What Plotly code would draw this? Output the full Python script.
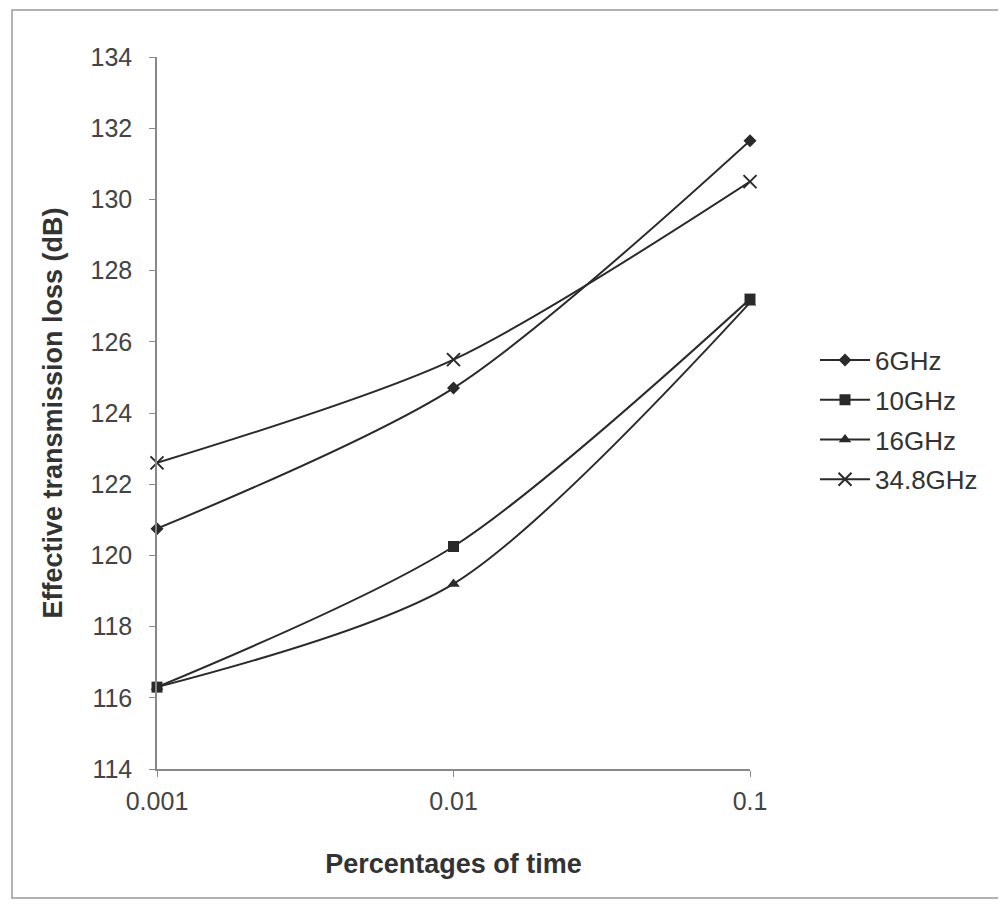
import plotly.graph_objects as go

# Data
time_pct = ["0.001", "0.01", "0.1"]
loss_6ghz = [120.75, 124.7, 131.65]
loss_10ghz = [116.3, 120.25, 127.2]
loss_16ghz = [116.3, 119.2, 127.1]
loss_348ghz = [122.6, 125.5, 130.5]
series_names = ["6GHz", "10GHz", "16GHz", "34.8GHz"]
y_ticks = list(range(114, 135, 2))

series = [loss_6ghz, loss_10ghz, loss_16ghz, loss_348ghz]
symbols = ["diamond", "square", "triangle-up", "x-thin"]
sizes = [10, 11, 11, 13]

fig = go.Figure()
for i, (name, vals) in enumerate(zip(series_names, series)):
    marker = dict(symbol=symbols[i], size=sizes[i], color="#2a2a2a",
                  line=dict(color="#2a2a2a", width=2 if symbols[i] == "x-thin" else 0))
    fig.add_trace(go.Scatter(
        x=time_pct, y=vals, name=name, mode="lines+markers",
        line=dict(color="#2a2a2a", width=2, shape="spline", smoothing=0.8),
        marker=marker, legendgroup=name, cliponaxis=False,
    ))

OFF = 8  # page body margin
W, H = 1006, 906
# plot area in screen pixels: x 157..750, y 57..769
L, R, T, B = 157 - OFF, W - (750 - OFF), 57 - OFF, H - (769 - OFF)
pw, ph = W - L - R, H - T - B

def px_x(x):
    return (x - OFF - L) / pw

def px_y(y):
    return (H - B - (y - OFF)) / ph

fig.update_layout(
    width=W, height=H,
    margin=dict(l=L, r=R, t=T, b=B, pad=0),
    paper_bgcolor="white", plot_bgcolor="white",
    font=dict(family="Liberation Sans, Arial, sans-serif", color="#333"),
    showlegend=True,
    legend=dict(x=px_x(815), y=px_y(420), xanchor="left", yanchor="middle",
                font=dict(size=26, color="#333"), tracegroupgap=3,
                bgcolor="rgba(0,0,0,0)", itemwidth=50),
    xaxis=dict(
        type="category", range=[0, 2], showline=True, linecolor="#888", linewidth=1.5,
        ticks="outside", ticklen=6, tickcolor="#888", showgrid=False, zeroline=False,
        tickfont=dict(size=25, color="#444"), ticklabelstandoff=3,
        title=dict(text="<b>Percentages of time</b>", font=dict(size=27, color="#333"), standoff=40),
    ),
    yaxis=dict(
        range=[114, 134], tickvals=y_ticks, showline=True, linecolor="#888", linewidth=1.5,
        ticks="outside", ticklen=6, tickcolor="#888", showgrid=False, zeroline=False,
        tickfont=dict(size=25, color="#444"), ticklabelstandoff=12,
        title=dict(text="<b>Effective transmission loss (dB)</b>", font=dict(size=27, color="#333"), standoff=20),
    ),
    shapes=[dict(type="rect", xref="paper", yref="paper",
                 x0=px_x(12), x1=px_x(1000), y0=px_y(898), y1=px_y(10),
                 line=dict(color="#999", width=1.5))],
)

fig.write_html("out.html")
